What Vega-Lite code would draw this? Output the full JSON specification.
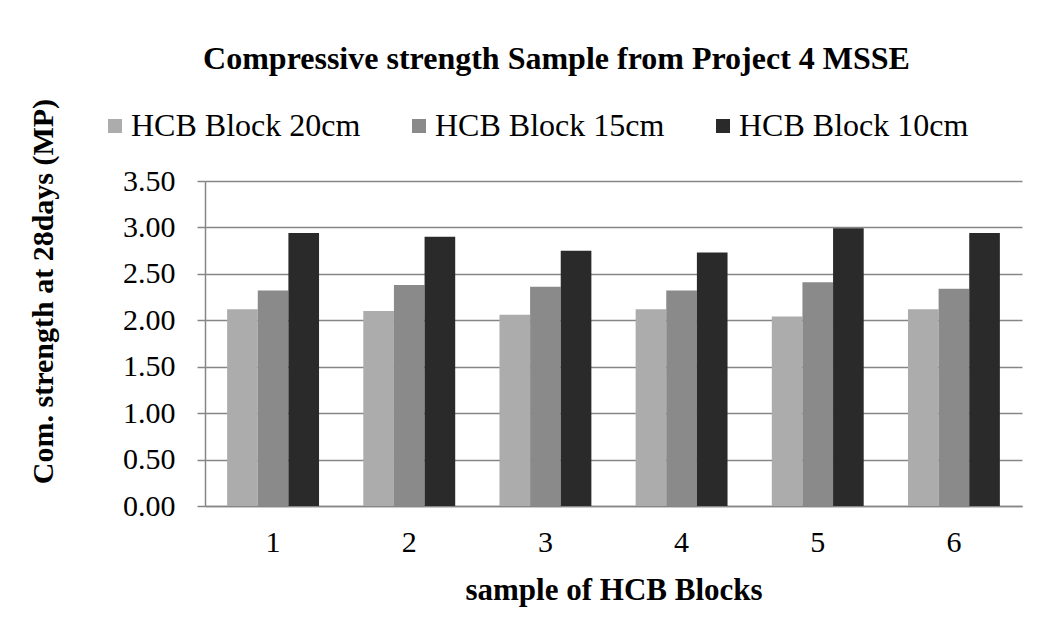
{
  "$schema": "https://vega.github.io/schema/vega-lite/v6.json",
  "autosize": {"type": "none"},
  "width": 817,
  "height": 325,
  "padding": {"left": 205, "top": 181, "right": 22, "bottom": 130},
  "background": "white",
  "title": {
    "text": "Compressive strength  Sample from Project 4  MSSE",
    "font": "Liberation Serif",
    "fontSize": 32,
    "fontWeight": "bold",
    "color": "black",
    "anchor": "middle",
    "baseline": "alphabetic",
    "offset": -3,
    "dx": -57
  },
  "data": {
    "values": [
      {"sample": "1", "block": "HCB Block 20cm", "strength": 2.12},
      {"sample": "1", "block": "HCB Block 15cm", "strength": 2.32},
      {"sample": "1", "block": "HCB Block 10cm", "strength": 2.94},
      {"sample": "2", "block": "HCB Block 20cm", "strength": 2.10},
      {"sample": "2", "block": "HCB Block 15cm", "strength": 2.38},
      {"sample": "2", "block": "HCB Block 10cm", "strength": 2.90},
      {"sample": "3", "block": "HCB Block 20cm", "strength": 2.06},
      {"sample": "3", "block": "HCB Block 15cm", "strength": 2.36},
      {"sample": "3", "block": "HCB Block 10cm", "strength": 2.75},
      {"sample": "4", "block": "HCB Block 20cm", "strength": 2.12},
      {"sample": "4", "block": "HCB Block 15cm", "strength": 2.32},
      {"sample": "4", "block": "HCB Block 10cm", "strength": 2.73},
      {"sample": "5", "block": "HCB Block 20cm", "strength": 2.04},
      {"sample": "5", "block": "HCB Block 15cm", "strength": 2.41},
      {"sample": "5", "block": "HCB Block 10cm", "strength": 2.99},
      {"sample": "6", "block": "HCB Block 20cm", "strength": 2.12},
      {"sample": "6", "block": "HCB Block 15cm", "strength": 2.34},
      {"sample": "6", "block": "HCB Block 10cm", "strength": 2.94}
    ]
  },
  "mark": {"type": "bar"},
  "encoding": {
    "x": {
      "field": "sample",
      "type": "ordinal",
      "scale": {"paddingInner": 0.325, "paddingOuter": 0.1625},
      "axis": {
        "title": "sample of HCB Blocks",
        "titleFont": "Liberation Serif",
        "titleFontSize": 31,
        "titleFontWeight": "bold",
        "titleColor": "black",
        "titleBaseline": "alphabetic",
        "titleY": 93,
        "labelAngle": 0,
        "labelFont": "Liberation Serif",
        "labelFontSize": 30,
        "labelColor": "black",
        "labelBaseline": "alphabetic",
        "labelPadding": 45,
        "ticks": false,
        "tickSize": 0,
        "domainColor": "#868686",
        "domainWidth": 1.5
      }
    },
    "xOffset": {
      "field": "block",
      "type": "nominal",
      "sort": ["HCB Block 20cm", "HCB Block 15cm", "HCB Block 10cm"],
      "scale": {"paddingInner": 0, "paddingOuter": 0}
    },
    "y": {
      "field": "strength",
      "type": "quantitative",
      "scale": {"domain": [0, 3.5], "nice": false},
      "axis": {
        "title": "Com. strength at 28days (MP)",
        "titleFont": "Liberation Serif",
        "titleFontSize": 30,
        "titleFontWeight": "bold",
        "titleColor": "black",
        "titleAngle": -90,
        "titleAlign": "center",
        "titleBaseline": "alphabetic",
        "titleX": -153,
        "titleY": 110,
        "values": [0, 0.5, 1, 1.5, 2, 2.5, 3, 3.5],
        "format": ".2f",
        "labelFont": "Liberation Serif",
        "labelFontSize": 30,
        "labelColor": "black",
        "labelPadding": 22,
        "tickSize": 8,
        "tickColor": "#868686",
        "tickWidth": 1.5,
        "domainColor": "#868686",
        "domainWidth": 1.5,
        "grid": true,
        "gridColor": "#868686",
        "gridWidth": 1.5
      }
    },
    "color": {
      "field": "block",
      "type": "nominal",
      "sort": ["HCB Block 20cm", "HCB Block 15cm", "HCB Block 10cm"],
      "scale": {
        "domain": ["HCB Block 20cm", "HCB Block 15cm", "HCB Block 10cm"],
        "range": ["#acacac", "#8a8a8a", "#2a2a2a"]
      },
      "legend": {
        "title": null,
        "orient": "none",
        "direction": "horizontal",
        "legendX": -106,
        "legendY": -71,
        "padding": 0,
        "symbolType": "square",
        "symbolSize": 196,
        "symbolStrokeWidth": 0,
        "labelFont": "Liberation Serif",
        "labelFontSize": 32,
        "labelColor": "black",
        "labelOffset": 0,
        "columnPadding": 42,
        "labelLimit": 400,
        "labelFontWeight": "normal",
        "labelFontStyle": "normal"
      }
    }
  },
  "config": {
    "font": "Liberation Serif",
    "legend": {"labelFont": "Liberation Serif", "titleFont": "Liberation Serif"},
    "text": {"font": "Liberation Serif"},
    "view": {"stroke": null}
  }
}
